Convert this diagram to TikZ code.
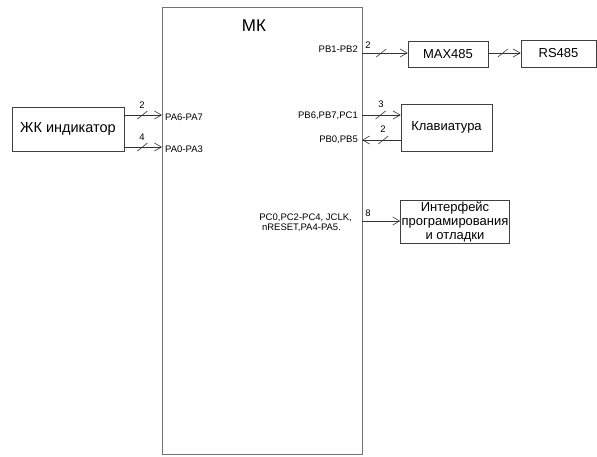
\documentclass[tikz,border=0pt]{standalone}
\usepackage{fontspec}
\setmainfont{Liberation Sans}
\usetikzlibrary{arrows.meta,decorations.markings}

\tikzset{
  block/.style={draw=black!75, line width=0.6pt, inner sep=1pt,
    font=\fontsize{13}{15}\selectfont},
  pin/.style={font=\fontsize{9.5}{10.5}\selectfont, inner sep=1pt},
  wire/.style={draw=black!80, line width=0.6pt},
  bus/.style={wire, postaction={decorate, decoration={markings,
    mark=at position #1 with {\draw[-, line width=0.6pt] (-5pt,-4pt) -- (5pt,4pt);}}}}
}

\begin{document}
\begin{tikzpicture}[x=1pt,y=-1pt,>={Straight Barb[length=7pt,width=8pt]}]

\useasboundingbox (0,0) rectangle (597,456);

% Microcontroller
\node[draw=black!55, line width=1pt, minimum width=200pt, minimum height=447pt]
    (mk) at (262,230.5) {};
\node[font=\fontsize{17}{19}\selectfont] (mktitle) at (254,26) {МК};

% Pin points on the MK edge
\coordinate (pa67) at (162,115);
\coordinate (pa03) at (162,147);
\coordinate (pb12) at (362,53);
\coordinate (pb67) at (362,115);
\coordinate (pb05) at (362,140);
\coordinate (pcx)  at (362,221);

% Peripheral blocks
\node[block, minimum width=112pt, minimum height=44pt, font=\fontsize{14.5}{16}\selectfont]
    (lcd) at (68,129) {ЖК индикатор};
\node[block, minimum width=80pt, minimum height=26pt] (max) at (448,54) {MAX485};
\node[block, minimum width=75pt, minimum height=27pt] (rs) at (558.5,53.5) {RS485};
\node[block, minimum width=91pt, minimum height=47pt] (kbd) at (446.5,127.5) {Клавиатура};
\node[block, minimum width=108pt, minimum height=43pt, align=center,
    font=\fontsize{13}{14}\selectfont]
    (jtag) at (455,221.5) {Интерфейс\\програмирования\\и отладки};

% Connections
\draw[bus=0.48,->] (lcd.east |- pa67) -- (pa67);
\draw[bus=0.48,->] (lcd.east |- pa03) -- (pa03);
\draw[bus=0.42,->] (pb12) -- (max.west |- pb12);
\draw[bus=0.45,->] (max.east |- pb12) -- (rs.west |- pb12);
\draw[bus=0.48,->] (pb67) -- (kbd.west |- pb67);
\draw[bus=0.45,->] (kbd.west |- pb05) -- (pb05);
\draw[wire,->] (pcx) -- (jtag.west |- pcx);

% Bus widths
\node[pin, above] (n1) at (142,110) {2};
\node[pin, above] (n2) at (142,142) {4};
\node[pin, above] (n3) at (368,50) {2};
\node[pin, above] (n4) at (381,109) {3};
\node[pin, above] (n5) at (383,134) {2};
\node[pin, above] (n6) at (368,218) {8};

% Pin names
\node[pin, anchor=west] (l1) at (164,117) {PA6-PA7};
\node[pin, anchor=west] (l2) at (164,149) {PA0-PA3};
\node[pin, anchor=south east] (l3) at (359,54) {PB1-PB2};
\node[pin, anchor=east] (l4) at (359,116) {PB6,PB7,PC1};
\node[pin, anchor=east] (l5) at (359,140) {PB0,PB5};
\node[pin, anchor=east, align=left, font=\fontsize{9.5}{9.5}\selectfont]
    (l6) at (353,223) {PC0,PC2-PC4, JCLK,\\\ nRESET,PA4-PA5.};

\end{tikzpicture}
\end{document}
